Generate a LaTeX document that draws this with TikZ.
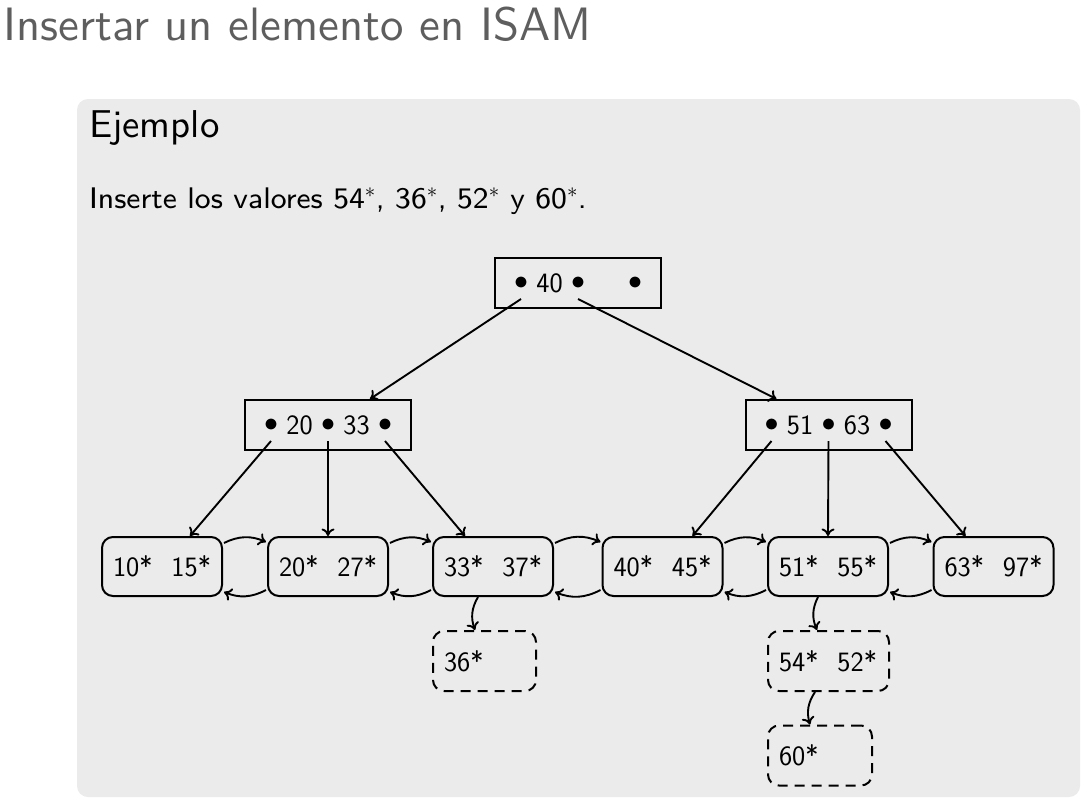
\RequirePackage{fix-cm}
\documentclass[tikz,border=0pt]{standalone}
\usepackage{fontspec}
\setsansfont{lmsans8-regular}[Extension=.otf]
\newfontfamily\ttlfont{lmsans10-regular}[Extension=.otf]
\newfontfamily\nodefont{Latin Modern Sans}
\usetikzlibrary{arrows.meta,calc}
\definecolor{blockbg}{HTML}{EBEBEB}
\definecolor{titlegray}{HTML}{5E5E5E}
\tikzset{
  inode/.style={draw, line width=2pt, minimum width=166pt, minimum height=50pt, inner sep=0pt},
  leaf/.style={draw, line width=2pt, rounded corners=11pt, minimum width=120pt, minimum height=59pt, inner sep=0pt, font=\nodefont\fontsize{28}{30}\selectfont},
  ovf/.style={draw, line width=2pt, dash pattern=on 10pt off 7pt, rounded corners=11pt, minimum height=60pt, inner xsep=11pt, inner ysep=0pt, align=left, font=\nodefont\fontsize{28}{30}\selectfont},
  ntext/.style={anchor=base, inner sep=0pt, font=\nodefont\fontsize{28}{30}\selectfont},
  bul/.style={anchor=base, inner sep=0pt, font=\fontsize{28}{30}\selectfont},
  conn/.style={line width=1.9pt, -{To[length=7.5pt,width=13pt]}},
}
\newcommand{\lf}[2]{#1*\hspace{19pt}#2*}
\begin{document}
\begin{tikzpicture}[x=1pt,y=-1pt]
\useasboundingbox (0,0) rectangle (1088,804);
\fill[white] (0,0) rectangle (1088,804);
\fill[blockbg, rounded corners=11pt] (77,99) rectangle (1080,797);
\node[anchor=base west, inner sep=0pt, text=titlegray, font=\ttlfont\fontsize{46.8}{50}\selectfont] (title) at (3,40) {Insertar un elemento en ISAM};
\node[anchor=base west, inner sep=0pt, font=\ttlfont\fontsize{38.8}{42}\selectfont] (btitle) at (89,137) {Ejemplo};
\node[anchor=base west, inner sep=0pt, font=\sffamily\fontsize{29.8}{32}\selectfont] (btext) at (89,208) {Inserte los valores 54$^*$, 36$^*$, 52$^*$ y 60$^*$.};

% internal nodes
\node[inode] (R) at (578,283) {};
\node[inode] (LI) at (328,425) {};
\node[inode] (RI) at (828.5,425) {};

\node[bul] (rb1) at (521,289) {$\bullet$};
\node[ntext] (rk1) at (549.5,292) {40};
\node[bul] (rb2) at (578,289) {$\bullet$};
\node[bul] (rb3) at (635,289) {$\bullet$};

\node[bul] (lb1) at (271,431) {$\bullet$};
\node[ntext] (lk1) at (299.5,434) {20};
\node[bul] (lb2) at (328,431) {$\bullet$};
\node[ntext] (lk2) at (356.5,434) {33};
\node[bul] (lb3) at (385,431) {$\bullet$};

\node[bul] (qb1) at (771.5,431) {$\bullet$};
\node[ntext] (qk1) at (800,434) {51};
\node[bul] (qb2) at (828.5,431) {$\bullet$};
\node[ntext] (qk2) at (857,434) {63};
\node[bul] (qb3) at (885.5,431) {$\bullet$};

% pointer start points
\coordinate (r1) at (521,299);
\coordinate (r2) at (578,299);
\coordinate (l1) at (271,441);
\coordinate (l2) at (328,441);
\coordinate (l3) at (385,441);
\coordinate (q1) at (771.5,441);
\coordinate (q2) at (828.5,441);
\coordinate (q3) at (885.5,441);

% leaves
\node[leaf] (L1) at (162,566.5) {\lf{10}{15}};
\node[leaf] (L2) at (328,566.5) {\lf{20}{27}};
\node[leaf] (L3) at (493,566.5) {\lf{33}{37}};
\node[leaf] (L4) at (662.5,566.5) {\lf{40}{45}};
\node[leaf] (L5) at (828,566.5) {\lf{51}{55}};
\node[leaf] (L6) at (993.5,566.5) {\lf{63}{97}};

% overflow pages
\node[ovf, text width=81pt] (O1) at (484.5,661) {36*};
\node[ovf, text width=99pt] (O2) at (828.5,661) {\lf{54}{52}};
\node[ovf, text width=82pt] (O3) at (820,755.5) {60*};

% tree pointers
\draw[conn] (r1) -- ($(LI.north)+(42,0)$);
\draw[conn] (r2) -- ($(RI.north)+(-52,0)$);
\draw[conn] (l1) -- ($(L1.north)+(28,0)$);
\draw[conn] (l2) -- (L2.north);
\draw[conn] (l3) -- ($(L3.north)+(-28,0)$);
\draw[conn] (q1) -- ($(L4.north)+(30,0)$);
\draw[conn] (q2) -- (L5.north);
\draw[conn] (q3) -- ($(L6.north)+(-28,0)$);

% sibling links
\foreach \a/\b in {L1/L2,L2/L3,L3/L4,L4/L5,L5/L6}{
  \draw[conn] ($(\a.north east)+(1,7)$) to[bend left=25] ($(\b.north west)+(-1,6)$);
  \draw[conn] ($(\b.south west)+(-1,-7)$) to[bend left=25] ($(\a.south east)+(1,-5)$);
}

% overflow links
\draw[conn] ($(L3.south)+(-15,0)$) to[bend right=25] ($(O1.north)+(-9.5,0)$);
\draw[conn] ($(L5.south)+(-10,0)$) to[bend right=25] ($(O2.north)+(-11.5,0)$);
\draw[conn] ($(O2.south)+(-13.5,0)$) to[bend right=25] ($(O3.north)+(-10,0)$);
\end{tikzpicture}
\end{document}
